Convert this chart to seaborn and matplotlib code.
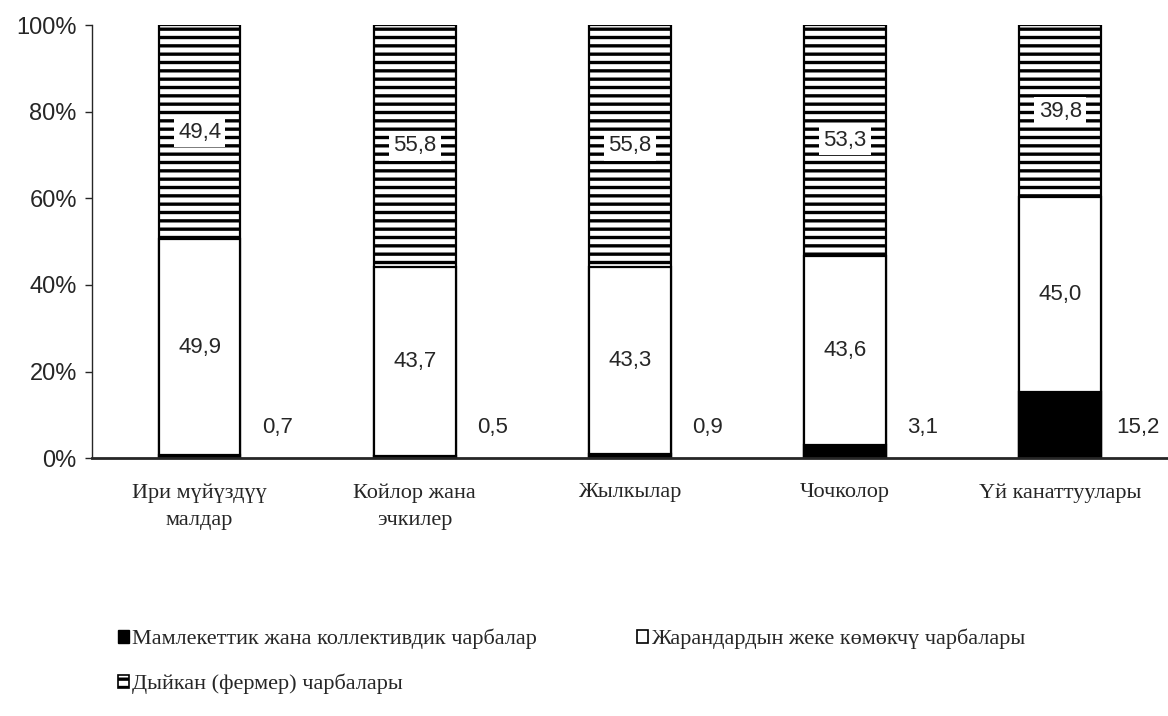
import pandas as pd
import seaborn as sns
import matplotlib.pyplot as plt
from matplotlib.patches import Patch

categories = ['Ири мүйүздүү\nмалдар', 'Койлор жана\nэчкилер', 'Жылкылар', 'Чочколор', 'Үй канаттуулары']
state = [0.7, 0.5, 0.9, 3.1, 15.2]
private = [49.9, 43.7, 43.3, 43.6, 45.0]
farmer = [49.4, 55.8, 55.8, 53.3, 39.8]
series_names = ['Мамлекеттик жана коллективдик чарбалар',
                'Жарандардын жеке көмөкчү чарбалары',
                'Дыйкан (фермер) чарбалары']

df = pd.DataFrame({'cat': categories, 'state': state, 'private': private, 'farmer': farmer})
df['cum_private'] = df['state'] + df['private']
df['cum_farmer'] = df['cum_private'] + df['farmer']

sns.set_style('ticks')
plt.rcParams['font.family'] = ['Liberation Sans', 'DejaVu Sans']
plt.rcParams['hatch.linewidth'] = 2.4
serif = ['Liberation Serif', 'DejaVu Serif']

fig = plt.figure(figsize=(11.68, 7.16), dpi=100)
ax = fig.add_axes([0.0788, 0.360, 0.921, 0.605])

# stacked bars drawn as overlapping cumulative totals
bar_kw = dict(x='cat', width=0.38, edgecolor='black', linewidth=1.6, saturation=1, ax=ax)
sns.barplot(data=df, y='cum_farmer', color='white', hatch='--', **bar_kw)
sns.barplot(data=df, y='cum_private', color='white', **bar_kw)
sns.barplot(data=df, y='state', color='black', **bar_kw)

for i, row in df.iterrows():
    ax.text(i, row['state'] + row['private'] / 2, f"{row['private']:.1f}".replace('.', ','),
            ha='center', va='center', fontsize=16)
    ax.text(i, row['cum_private'] + row['farmer'] / 2, f"{row['farmer']:.1f}".replace('.', ','),
            ha='center', va='center', fontsize=16,
            bbox=dict(facecolor='white', edgecolor='none', pad=3))
    ax.text(i + 0.36, 7, f"{row['state']:.1f}".replace('.', ','),
            ha='center', va='center', fontsize=16)

ax.set_xlim(-0.5, 4.5)
ax.set_ylim(0, 100)
ax.set_yticks([0, 20, 40, 60, 80, 100])
ax.set_yticklabels([f'{v}%' for v in [0, 20, 40, 60, 80, 100]], fontsize=17)
ax.set_xticks(range(len(categories)))
ax.set_xticklabels(categories, fontfamily=serif, fontsize=16, linespacing=1.6)
ax.tick_params(axis='x', length=0, pad=18)
ax.tick_params(axis='y', length=5, width=1, pad=6)
ax.set_xlabel('')
ax.set_ylabel('')
sns.despine(ax=ax)
ax.spines['bottom'].set_linewidth(2)
ax.spines['left'].set_linewidth(1)

handles = [Patch(facecolor='black', edgecolor='black'),
           Patch(facecolor='white', edgecolor='black', linewidth=1.2),
           Patch(facecolor='white', edgecolor='black', hatch='--', linewidth=1.2)]
order = [0, 2, 1]  # fill rows left to right
fig.legend([handles[k] for k in order], [series_names[k] for k in order],
           loc='upper left', bbox_to_anchor=(0.093, 1 - 620 / 716),
           bbox_transform=fig.transFigure, ncol=2, frameon=False,
           prop={'family': serif, 'size': 16}, handlelength=0.5, handleheight=0.5,
           handletextpad=0.15, columnspacing=4.5, labelspacing=1.1, borderaxespad=0)

fig.savefig('out.png', dpi=100)
